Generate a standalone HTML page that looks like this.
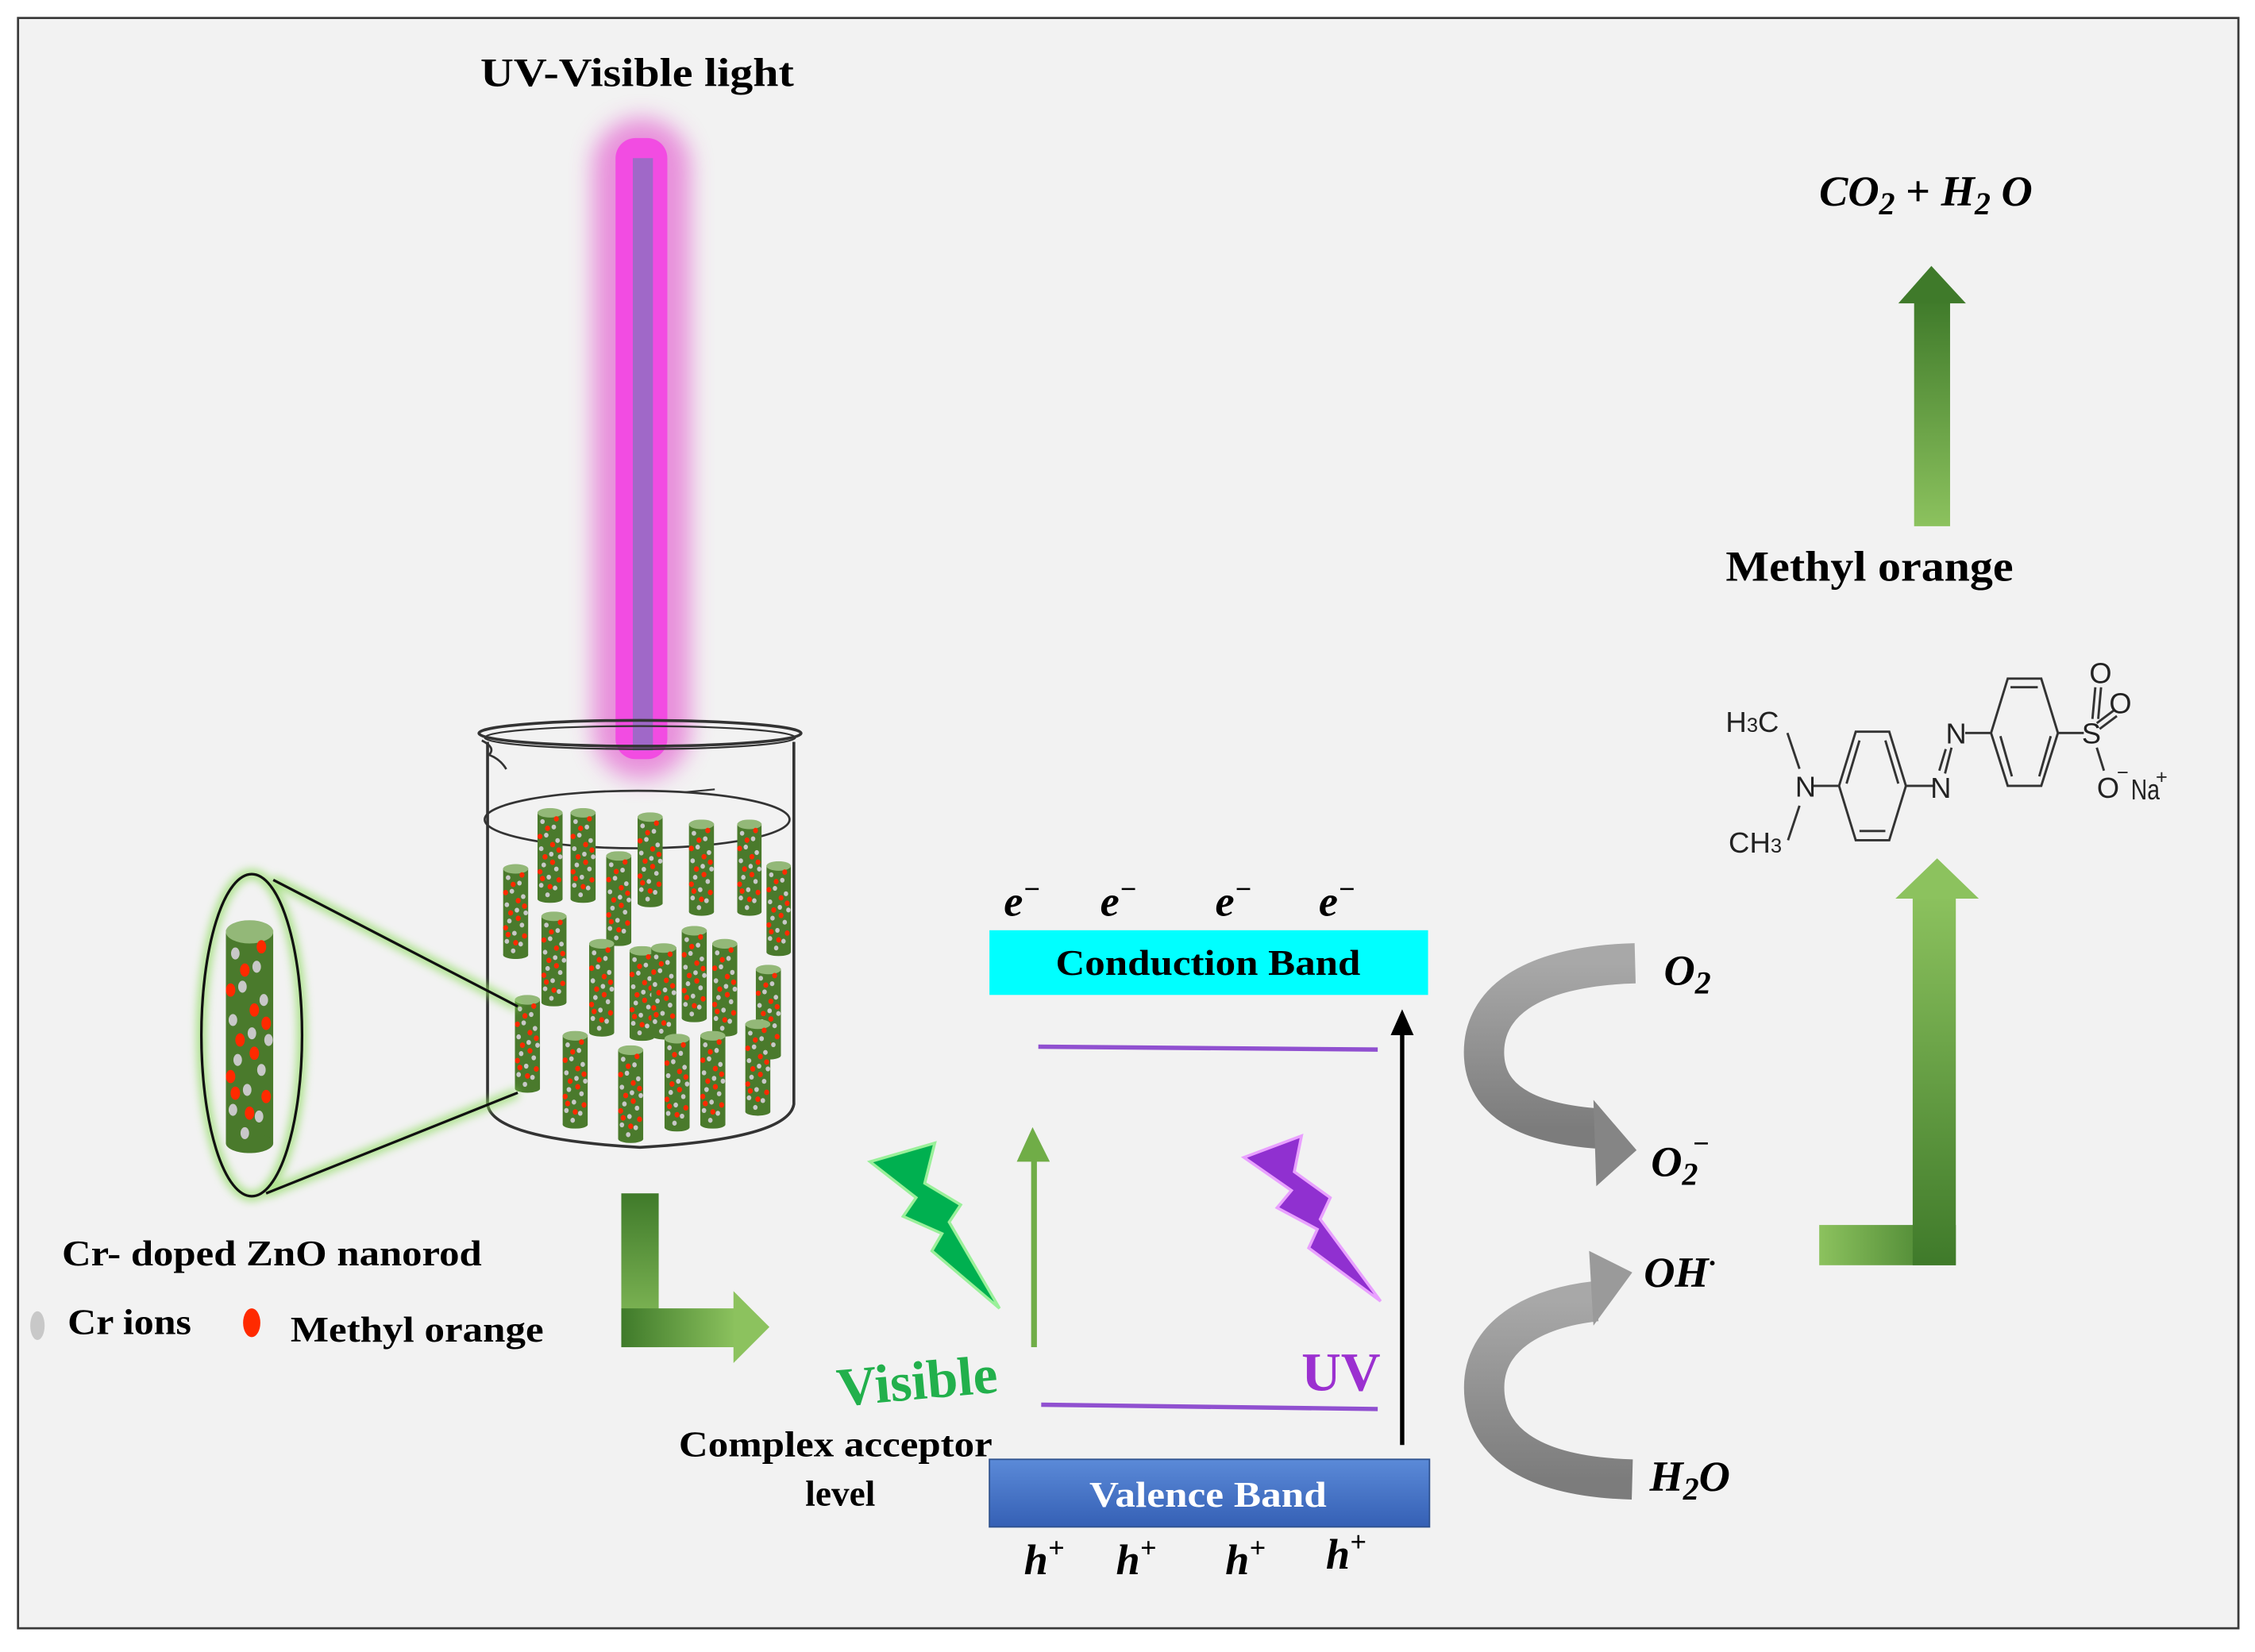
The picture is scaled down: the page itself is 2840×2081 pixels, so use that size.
<!DOCTYPE html>
<html><head><meta charset="utf-8"><style>html,body{margin:0;padding:0;background:#fff}svg{display:block}</style></head>
<body>
<svg xmlns="http://www.w3.org/2000/svg" width="2840" height="2081" viewBox="0 0 1568 1149">
<defs>
<filter id="blur8" x="-1" y="-1" width="3" height="3"><feGaussianBlur stdDeviation="8"/></filter>
<filter id="blur3" x="-1" y="-1" width="3" height="3"><feGaussianBlur stdDeviation="3"/></filter>
<linearGradient id="gv" x1="0" y1="0" x2="0" y2="1"><stop offset="0" stop-color="#3f7a2a"/><stop offset="1" stop-color="#8cc25e"/></linearGradient>
<linearGradient id="gvu" x1="0" y1="0" x2="0" y2="1"><stop offset="0" stop-color="#8cc25e"/><stop offset="1" stop-color="#3f7a2a"/></linearGradient>
<linearGradient id="gh" x1="0" y1="0" x2="1" y2="0"><stop offset="0" stop-color="#3f7a2a"/><stop offset="1" stop-color="#8cc25e"/></linearGradient>
<linearGradient id="gray" x1="0" y1="0" x2="0" y2="1"><stop offset="0" stop-color="#a8a8a8"/><stop offset="1" stop-color="#7c7c7c"/></linearGradient>
<linearGradient id="vb" x1="0" y1="0" x2="0" y2="1"><stop offset="0" stop-color="#5b8ad8"/><stop offset="1" stop-color="#3560b5"/></linearGradient>
<symbol id="rod" viewBox="0 0 20 70" preserveAspectRatio="none">
<rect x="0" y="3" width="20" height="64" fill="#4a7a2c"/>
<ellipse cx="10" cy="67" rx="10" ry="3" fill="#4a7a2c"/>
<ellipse cx="10" cy="3.5" rx="10" ry="3.5" fill="#93b878"/>
<g fill="#c8c8c8"><circle cx="4" cy="10" r="1.8"/><circle cx="13" cy="14" r="1.8"/><circle cx="7" cy="20" r="1.8"/><circle cx="16" cy="24" r="1.8"/><circle cx="3" cy="30" r="1.8"/><circle cx="11" cy="34" r="1.8"/><circle cx="5" cy="42" r="1.8"/><circle cx="15" cy="45" r="1.8"/><circle cx="9" cy="51" r="1.8"/><circle cx="3" cy="57" r="1.8"/><circle cx="14" cy="59" r="1.8"/><circle cx="8" cy="64" r="1.8"/><circle cx="18" cy="36" r="1.8"/></g>
<g fill="#ff2a00"><circle cx="15" cy="8" r="2"/><circle cx="8" cy="15" r="2"/><circle cx="2" cy="21" r="2"/><circle cx="12" cy="27" r="2"/><circle cx="17" cy="31" r="2"/><circle cx="6" cy="36" r="2"/><circle cx="12" cy="40" r="2"/><circle cx="2" cy="47" r="2"/><circle cx="17" cy="53" r="2"/><circle cx="10" cy="58" r="2"/><circle cx="4" cy="52" r="2"/></g>
</symbol>
</defs>
<rect width="1568" height="1149" fill="#fff"/>
<rect x="12.5" y="12.5" width="1544" height="1120" fill="#f2f2f2" stroke="#3a3a3a" stroke-width="1.5"/>

<!-- title & lamp -->
<text x="334" y="60" font-family="Liberation Serif" font-weight="bold" font-size="28" textLength="218" lengthAdjust="spacingAndGlyphs">UV-Visible light</text>
<rect x="412" y="82" width="68" height="460" rx="34" fill="#e040c8" opacity="0.55" filter="url(#blur8)"/>
<rect x="428" y="96" width="36" height="432" rx="14" fill="#f24ce2"/>
<rect x="440" y="110" width="14" height="412" fill="#a068c8"/>

<!-- beaker -->
<g fill="none" stroke="#333" stroke-width="2">
<ellipse cx="445" cy="510" rx="112" ry="9"/>
<ellipse cx="445" cy="513" rx="108" ry="8" stroke-width="1.2"/>
<path d="M339,516 L339,768 Q342,792 445,798 Q548,792 552,768 L552,516"/>
<path d="M335,515 Q345,520 340,525 Q348,528 352,535" stroke-width="1.5"/>
<ellipse cx="443" cy="570" rx="106" ry="20" stroke-width="1.5"/>
<path d="M476,551 L497,549" stroke-width="1.2"/>
</g>
<g>
<use href="#rod" x="373.7" y="562" width="17.5" height="66"/>
<use href="#rod" x="396.7" y="562" width="17.5" height="66"/>
<use href="#rod" x="443.3" y="565" width="17.5" height="66"/>
<use href="#rod" x="479" y="570" width="17.5" height="67"/>
<use href="#rod" x="512.6" y="570" width="17" height="67"/>
<use href="#rod" x="349.8" y="601" width="17.5" height="66"/>
<use href="#rod" x="421.5" y="592" width="17.5" height="66"/>
<use href="#rod" x="532.9" y="599" width="17" height="66"/>
<use href="#rod" x="376.4" y="634" width="17.5" height="66"/>
<use href="#rod" x="409.6" y="653" width="17.5" height="68"/>
<use href="#rod" x="437.7" y="658" width="17.5" height="66"/>
<use href="#rod" x="452.8" y="656" width="17.5" height="67"/>
<use href="#rod" x="474" y="644" width="17.5" height="67"/>
<use href="#rod" x="495.2" y="653" width="17.5" height="68"/>
<use href="#rod" x="525.5" y="671" width="17.5" height="66"/>
<use href="#rod" x="358" y="692" width="17.5" height="68"/>
<use href="#rod" x="391.2" y="717" width="17.5" height="68"/>
<use href="#rod" x="429.8" y="727" width="17.5" height="68"/>
<use href="#rod" x="462" y="719" width="17.5" height="68"/>
<use href="#rod" x="486.9" y="717" width="17.5" height="68"/>
<use href="#rod" x="518.2" y="709" width="17.5" height="67"/>
</g>

<!-- zoom ellipse -->
<g stroke="#8fdc60" stroke-width="7" fill="none" opacity="0.7" filter="url(#blur3)">
<ellipse cx="175" cy="720" rx="35" ry="112"/>
<line x1="190" y1="612" x2="360" y2="700"/><line x1="185" y1="830" x2="360" y2="760"/>
</g>
<g stroke="#111" stroke-width="1.8" fill="none">
<ellipse cx="175" cy="720" rx="35" ry="112"/>
<line x1="190" y1="612" x2="360" y2="700"/><line x1="185" y1="830" x2="360" y2="760"/>
</g>
<use href="#rod" x="157" y="640" width="33" height="162"/>

<text x="43" y="880" font-family="Liberation Serif" font-weight="bold" font-size="25" textLength="292" lengthAdjust="spacingAndGlyphs">Cr- doped ZnO nanorod</text>
<ellipse cx="26" cy="922" rx="5" ry="10" fill="#c8c8c8"/>
<text x="47" y="928" font-family="Liberation Serif" font-weight="bold" font-size="25" textLength="86" lengthAdjust="spacingAndGlyphs">Cr ions</text>
<ellipse cx="175" cy="920" rx="6" ry="10" fill="#ff2a00"/>
<text x="202" y="933" font-family="Liberation Serif" font-weight="bold" font-size="25" textLength="176" lengthAdjust="spacingAndGlyphs">Methyl orange</text>

<!-- left L arrow -->
<rect x="432" y="830" width="26" height="107" fill="url(#gv)"/>
<rect x="432" y="910" width="80" height="27" fill="url(#gh)"/>
<polygon points="510,898 535,923 510,948" fill="#8cc25e"/>

<!-- lightning -->
<polygon points="605,808 650,795 643,823 668,838 660,850 695,910 648,870 655,858 628,846 637,833" fill="#00b050" stroke="#9af09a" stroke-width="2"/>
<polygon points="865,805 905,790 900,815 925,833 918,848 960,905 910,868 916,855 888,840 898,828" fill="#9030d0" stroke="#e9a0ff" stroke-width="2"/>
<text x="583" y="978" font-family="Liberation Serif" font-weight="bold" font-size="38" fill="#22b04c" transform="rotate(-5 583 978)" textLength="112" lengthAdjust="spacingAndGlyphs">Visible</text>
<text x="905" y="967" font-family="Liberation Serif" font-weight="bold" font-size="38" fill="#9b30d0">UV</text>
<text x="472" y="1013" font-family="Liberation Serif" font-weight="bold" font-size="25" textLength="218" lengthAdjust="spacingAndGlyphs">Complex acceptor</text>
<text x="560" y="1047" font-family="Liberation Serif" font-weight="bold" font-size="25">level</text>

<!-- bands -->
<rect x="688" y="647" width="305" height="45" fill="#00ffff"/>
<text x="840" y="678" text-anchor="middle" font-family="Liberation Serif" font-weight="bold" font-size="25" textLength="212" lengthAdjust="spacingAndGlyphs">Conduction  Band</text>
<rect x="688" y="1015" width="306" height="47" fill="url(#vb)" stroke="#2f528f" stroke-width="1"/>
<text x="840" y="1048" text-anchor="middle" font-family="Liberation Serif" font-weight="bold" font-size="25" fill="#fff" textLength="165" lengthAdjust="spacingAndGlyphs">Valence Band</text>
<line x1="722" y1="728" x2="958" y2="730" stroke="#9050d0" stroke-width="3"/>
<line x1="724" y1="977" x2="958" y2="980" stroke="#9050d0" stroke-width="3"/>
<line x1="719" y1="937" x2="719" y2="805" stroke="#70ad47" stroke-width="4"/>
<polygon points="707,808 718,784 730,808" fill="#70ad47"/>
<line x1="975" y1="1005" x2="975" y2="718" stroke="#000" stroke-width="3"/>
<polygon points="967,720 975,702 983,720" fill="#000"/>
<g font-family="Liberation Serif" font-weight="bold" font-style="italic" font-size="30">
<text x="698" y="637">e<tspan font-size="20" dy="-12">−</tspan></text>
<text x="765" y="637">e<tspan font-size="20" dy="-12">−</tspan></text>
<text x="845" y="637">e<tspan font-size="20" dy="-12">−</tspan></text>
<text x="917" y="637">e<tspan font-size="20" dy="-12">−</tspan></text>
<text x="712" y="1095">h<tspan font-size="20" dy="-12">+</tspan></text>
<text x="776" y="1095">h<tspan font-size="20" dy="-12">+</tspan></text>
<text x="852" y="1095">h<tspan font-size="20" dy="-12">+</tspan></text>
<text x="922" y="1091">h<tspan font-size="20" dy="-12">+</tspan></text>
</g>

<!-- gray curved arrows -->
<path d="M1137,670 C1060,672 1030,700 1032,735 C1034,770 1070,782 1112,785" fill="none" stroke="url(#gray)" stroke-width="28"/>
<polygon points="1108,765 1138,800 1110,825" fill="#858585"/>
<path d="M1135,1029 C1060,1027 1032,1000 1032,965 C1032,930 1065,910 1110,905" fill="none" stroke="url(#gray)" stroke-width="28"/>
<polygon points="1105,870 1135,885 1108,922" fill="#9a9a9a"/>
<g font-family="Liberation Serif" font-weight="bold" font-style="italic" font-size="30">
<text x="1157" y="685">O<tspan font-size="22" dy="6">2</tspan></text>
<text x="1148" y="818">O<tspan font-size="22" dy="6">2</tspan><tspan font-size="20" dx="-4" dy="-22">−</tspan></text>
<text x="1143" y="895">OH<tspan font-size="20" dy="-10">·</tspan></text>
<text x="1147" y="1037">H<tspan font-size="22" dy="6">2</tspan><tspan dy="-6">O</tspan></text>
<text x="1265" y="143">CO<tspan font-size="22" dy="6">2</tspan><tspan dy="-6" font-style="normal"> + </tspan>H<tspan font-size="22" dy="6">2</tspan><tspan dy="-6"> O</tspan></text>
</g>

<!-- right arrows -->
<rect x="1265" y="852" width="95" height="28" fill="url(#gh)" transform="rotate(180 1312.5 866)"/>
<rect x="1330" y="622" width="30" height="258" fill="url(#gvu)"/>
<polygon points="1318,625 1347,597 1376,625" fill="#8cc25e"/>
<rect x="1331" y="208" width="25" height="158" fill="url(#gv)"/>
<polygon points="1320,211 1343,185 1367,211" fill="#3f7a2a"/>
<text x="1200" y="404" font-family="Liberation Serif" font-weight="bold" font-size="30" textLength="200" lengthAdjust="spacingAndGlyphs">Methyl orange</text>

<!-- molecule -->
<g stroke="#333" stroke-width="1.6" fill="none">
<polygon points="1290.4,508.9 1313.7,508.9 1325.3,546.6 1313.7,584.4 1290.4,584.4 1278.8,546.6"/>
<line x1="1293" y1="515" x2="1284" y2="545"/><line x1="1311" y1="515" x2="1320" y2="545"/><line x1="1293" y1="578" x2="1311" y2="578"/>
<line x1="1259.8" y1="546.6" x2="1278.8" y2="546.6"/>
<line x1="1251.3" y1="534.7" x2="1242.9" y2="509.8"/><line x1="1251.3" y1="560.4" x2="1243.3" y2="584.4"/>
<line x1="1325.3" y1="546.6" x2="1344.3" y2="546.6"/>
<line x1="1352.5" y1="538" x2="1357" y2="520"/><line x1="1348.5" y1="536" x2="1353" y2="521"/>
<line x1="1366.5" y1="509.8" x2="1384.5" y2="509.8"/>
<polygon points="1396.1,472 1419.4,472 1431,509.8 1419.4,546.6 1396.1,546.6 1384.5,509.8"/>
<line x1="1398" y1="478" x2="1417" y2="478"/><line x1="1391" y1="512" x2="1399" y2="540"/><line x1="1426" y1="512" x2="1418" y2="540"/>
<line x1="1431" y1="509.8" x2="1449" y2="509.8"/>
<line x1="1455" y1="500" x2="1457" y2="478"/><line x1="1459" y1="500" x2="1461" y2="478"/>
<line x1="1458" y1="503" x2="1470" y2="494"/><line x1="1460" y1="507" x2="1472" y2="498"/>
<line x1="1458" y1="520" x2="1463" y2="536"/>
</g>
<g font-family="Liberation Sans" font-size="20" fill="#222">
<text x="1200" y="509" textLength="37" lengthAdjust="spacingAndGlyphs">H<tspan font-size="14">3</tspan>C</text>
<text x="1202" y="593" textLength="37" lengthAdjust="spacingAndGlyphs">CH<tspan font-size="14">3</tspan></text>
<text x="1255.5" y="554" text-anchor="middle">N</text>
<text x="1349.6" y="555" text-anchor="middle">N</text>
<text x="1360.2" y="517" text-anchor="middle">N</text>
<text x="1454.3" y="517" text-anchor="middle">S</text>
<text x="1460.6" y="475" text-anchor="middle">O</text>
<text x="1474.4" y="496" text-anchor="middle">O</text>
<text x="1465.9" y="555" text-anchor="middle">O</text>
<text x="1472" y="542" font-size="14">−</text>
<text x="1481.8" y="556" textLength="20" lengthAdjust="spacingAndGlyphs">Na</text>
<text x="1499" y="545" font-size="14">+</text>
</g>
</svg>
</body></html>
